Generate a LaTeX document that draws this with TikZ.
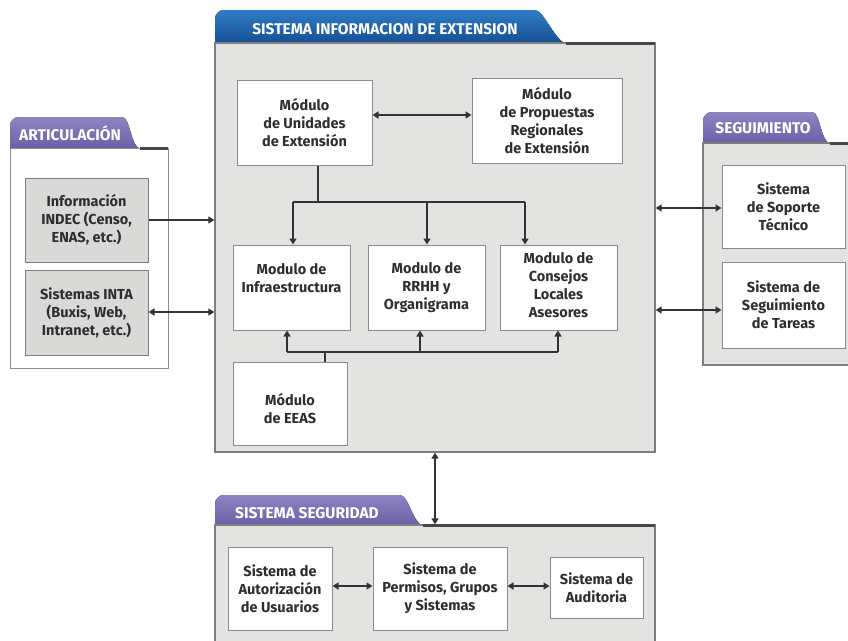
\documentclass[tikz,border=0pt]{standalone}
\usepackage{fontspec}
\setmainfont{Fira Sans}
\usetikzlibrary{arrows.meta}

\definecolor{panelgray}{HTML}{E3E3E1}
\definecolor{paneledge}{HTML}{7E7E7E}
\definecolor{boxedge}{HTML}{8C8C8C}
\definecolor{inkgray}{HTML}{2E2E2E}
\definecolor{tabblueA}{HTML}{2F7CC4}
\definecolor{tabblueB}{HTML}{154F92}
\definecolor{tabpurpA}{HTML}{8E84C2}
\definecolor{tabpurpB}{HTML}{6A5FA6}
\definecolor{graybox}{HTML}{D9D9D7}
\definecolor{linkgray}{HTML}{333333}

% block given by its two corners (x1,y1) and (x2,y2)
\newcommand{\mkbox}[7]{%
  \node[#6, minimum width={#4-#2}, minimum height={#5-#3}]
    (#1) at ({(#2+#4)/2},{(#3+#5)/2}) {#7};}

% folder tab: left x, top y, end of flat top, end of slope, base y
\newcommand{\foldertab}[6]{%
  \fill[#6] (#1,#5) -- (#1,#2+9) arc[start angle=180,end angle=270,radius=9]
    -- (#3,#2) .. controls (#3+9,#2) and (#4-12,#5) .. (#4,#5) -- cycle;}

\tikzset{
  panel/.style={draw=paneledge, line width=1.3pt, fill=panelgray, inner sep=0pt},
  lightpanel/.style={draw=boxedge, line width=1pt, fill=white, inner sep=0pt},
  modbox/.style={draw=boxedge, line width=1pt, fill=white, inner sep=0pt,
    align=center, font=\bfseries\fontsize{14.5}{18}\selectfont, text=inkgray},
  infobox/.style={modbox, fill=graybox, draw=paneledge},
  txt/.style={align=center, font=\bfseries\fontsize{14.5}{18}\selectfont, text=inkgray},
  tabtext/.style={font=\bfseries\fontsize{15.5}{17}\selectfont, text=white},
  topline/.style={line width=3pt, color=linkgray!90},
  link/.style={line width=1.5pt, draw=linkgray},
  arr/.style={link, -{Triangle[length=6pt,width=7pt]}},
  darr/.style={link, {Triangle[length=6pt,width=7pt]}-{Triangle[length=6pt,width=7pt]}},
}

\begin{document}
\begin{tikzpicture}[x=1pt, y=-1pt]
\useasboundingbox (0,0) rectangle (848,640);

% ---------------- Sistema Informacion de Extension ----------------
\foldertab{215}{10}{535}{568}{44}{top color=tabblueA, bottom color=tabblueB}
\mkbox{sie}{215}{43}{655}{452}{panel}{}
\draw[topline] (566,43) -- (655,43);
\node[tabtext] (sietab) at (385,29) {SISTEMA INFORMACION DE EXTENSION};

\mkbox{unid}{237}{80}{372}{165}{modbox}{Módulo\\de Unidades\\de Extensión}
\mkbox{prop}{472}{78}{622}{163}{modbox}{Módulo\\de Propuestas\\Regionales\\de Extensión}
\mkbox{infra}{233}{245}{350}{330}{modbox}{}
\node[txt] (infratxt) at (291.5,278) {Modulo de\\Infraestructura};
\mkbox{rrhh}{368}{245}{485}{330}{modbox}{Modulo de\\RRHH y\\Organigrama}
\mkbox{cons}{500}{245}{617}{330}{modbox}{}
\node[txt] (constxt) at (558.5,285.5) {Modulo de\\Consejos\\Locales\\Asesores};
\mkbox{eeas}{233}{362}{347}{445}{modbox}{}
\node[txt] (eeastxt) at (290,409) {Módulo\\de EEAS};

\draw[darr] (unid.east |- 0,115) coordinate (ua) -- (prop.west |- ua);

% distribution from Unidades to the three lower modules
\coordinate (topbus) at (318,202);
\coordinate (tbl) at (293,202);
\coordinate (tbm) at (427,202);
\coordinate (tbr) at (525,202);
\draw[link] (unid.south -| topbus) -- (topbus);
\draw[link] (tbl) -- (tbr);
\draw[arr] (tbl) -- (infra.north -| tbl);
\draw[arr] (tbm) -- (rrhh.north -| tbm);
\draw[arr] (tbr) -- (cons.north -| tbr);

% feed from EEAS to the three modules
\coordinate (botbus) at (325,352);
\coordinate (bbl) at (287,352);
\coordinate (bbm) at (420,352);
\coordinate (bbr) at (558,352);
\draw[link] (eeas.north -| botbus) -- (botbus);
\draw[link] (bbl) -- (bbr);
\draw[arr] (bbl) -- (infra.south -| bbl);
\draw[arr] (bbm) -- (rrhh.south -| bbm);
\draw[arr] (bbr) -- (cons.south -| bbr);

% ---------------- Articulacion ----------------
\foldertab{10}{117}{122}{142}{149}{top color=tabpurpA, bottom color=tabpurpB}
\mkbox{art}{10}{148}{168}{368}{lightpanel}{}
\draw[topline] (140,148) -- (168,148);
\node[tabtext] (arttab) at (70,133) {ARTICULACIÓN};
\mkbox{indec}{25}{178}{148}{262}{infobox}{Información\\INDEC (Censo,\\ENAS, etc.)}
\mkbox{inta}{25}{270}{148}{355}{infobox}{Sistemas INTA\\(Buxis, Web,\\Intranet, etc.)}
\draw[arr] (indec.east |- 0,220) coordinate (ia) -- (sie.west |- ia);
\draw[darr] (inta.east |- 0,312) coordinate (ib) -- (sie.west |- ib);

% ---------------- Seguimiento ----------------
\foldertab{703}{112}{812}{832}{144}{top color=tabpurpA, bottom color=tabpurpB}
\mkbox{seg}{703}{143}{856}{365}{panel}{}
\draw[topline] (830,143) -- (848,143);
\node[tabtext] (segtab) at (763,128) {SEGUIMIENTO};
\mkbox{sop}{722}{165}{845}{248}{modbox}{Sistema\\de Soporte\\Técnico}
\mkbox{tar}{722}{262}{845}{348}{modbox}{Sistema de\\Seguimiento\\de Tareas}
\draw[darr] (sie.east |- 0,208) coordinate (sa) -- (sop.west |- sa);
\draw[darr] (sie.east |- 0,310) coordinate (sb) -- (tar.west |- sb);

% ---------------- Sistema Seguridad ----------------
\foldertab{215}{495}{400}{425}{526}{top color=tabpurpA, bottom color=tabpurpB}
\mkbox{ss}{215}{525}{655}{660}{panel}{}
\draw[topline] (423,525) -- (655,525);
\node[tabtext] (sstab) at (307,513) {SISTEMA SEGURIDAD};
\mkbox{aut}{228}{547}{332}{630}{modbox}{Sistema de\\Autorización\\de Usuarios}
\mkbox{perm}{373}{547}{507}{630}{modbox}{Sistema de\\Permisos, Grupos\\y Sistemas}
\mkbox{aud}{550}{557}{643}{618}{modbox}{Sistema de\\Auditoria}
\draw[darr] (aut.east |- 0,586) coordinate (pa) -- (perm.west |- pa);
\draw[darr] (perm.east |- 0,586) coordinate (pb) -- (aud.west |- pb);

\draw[darr] (sie.south -| 435,0) coordinate (va) -- (ss.north -| va);
\end{tikzpicture}
\end{document}
